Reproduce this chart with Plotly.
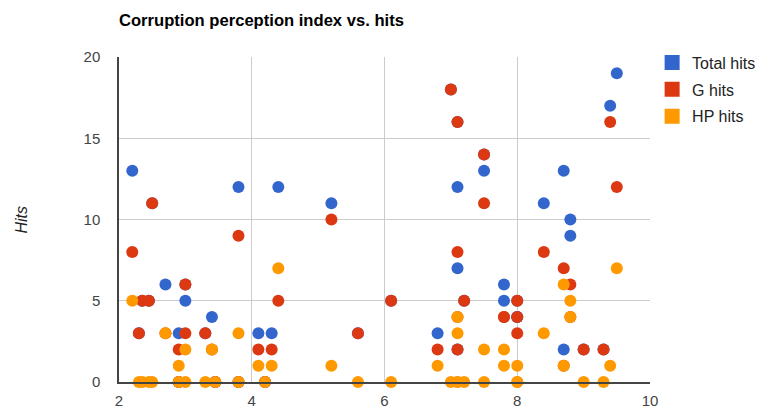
import plotly.graph_objects as go

# Corruption perception index (x) per country
cpi = [2.2, 2.3, 2.35, 2.45, 2.5, 2.7, 2.9, 2.9, 3.0, 3.0,
       3.3, 3.4, 3.45, 3.8, 3.8, 4.1, 4.2, 4.3, 4.4, 5.2,
       5.6, 6.1, 6.8, 7.0, 7.1, 7.1, 7.1, 7.1, 7.2, 7.5,
       7.5, 7.8, 7.8, 8.0, 8.0, 8.0, 8.4, 8.7, 8.7, 8.8,
       8.8, 9.0, 9.3, 9.4, 9.5]

total_hits = [13, 3, 5, 5, 11, 6, 0, 3, 6, 5,
              3, 4, 0, 12, 0, 3, 0, 3, 12, 11,
              3, 5, 3, 18, 16, 12, 7, 2, 5, 14,
              13, 6, 5, 5, 4, 4, 11, 13, 2, 10,
              9, 2, 2, 17, 19]

g_hits = [8, 3, 5, 5, 11, 3, 0, 2, 6, 3,
          3, 2, 0, 9, 0, 2, 0, 2, 5, 10,
          3, 5, 2, 18, 16, 8, 4, 2, 5, 14,
          11, 4, 4, 5, 3, 4, 8, 7, 1, 6,
          4, 2, 2, 16, 12]

hp_hits = [5, 0, 0, 0, 0, 3, 0, 1, 0, 2,
           0, 2, 0, 3, 0, 1, 0, 1, 7, 1,
           0, 0, 1, 0, 0, 4, 3, 0, 0, 0,
           2, 2, 1, 0, 1, 0, 3, 6, 1, 4,
           5, 0, 0, 1, 7]

series_names = ["Total hits", "G hits", "HP hits"]
series_colors = ["#3366cc", "#dc3912", "#ff9900"]
x_ticks = [2, 4, 6, 8, 10]
y_ticks = [0, 5, 10, 15, 20]

FONT = "Arial, Liberation Sans, sans-serif"

fig = go.Figure()
for name, vals, col in zip(series_names, [total_hits, g_hits, hp_hits], series_colors):
    fig.add_trace(go.Scatter(x=cpi, y=vals, mode="markers", name=name,
                             marker=dict(color=col, size=12, line=dict(width=0)),
                             cliponaxis=False, showlegend=False))
# legend entries with square swatches
for i, (name, col) in enumerate(zip(series_names, series_colors)):
    fig.add_trace(go.Scatter(x=[None], y=[None], mode="markers", name=name,
                             legendgroup=str(i),
                             marker=dict(color=col, size=15, symbol="square", line=dict(width=0)),
                             showlegend=True))

axis_common = dict(showgrid=True, gridcolor="#cccccc", gridwidth=1,
                   showline=True, linecolor="#444444", linewidth=1.5,
                   zeroline=False, ticks="",
                   tickfont=dict(family=FONT, size=15, color="#444444"))

# page body has an 8px margin, so the figure is sized 8px smaller each way
W, H = 755, 401
fig.update_layout(
    width=W, height=H,
    margin=dict(l=111, r=113, t=49, b=27, autoexpand=False),
    paper_bgcolor="white", plot_bgcolor="white",
    title=dict(text="<b>Corruption perception index vs. hits</b>",
               font=dict(family=FONT, size=16.6, color="#000000"),
               x=0, xref="paper", xanchor="left",
               y=1 - 12 / H, yref="container", yanchor="middle"),
    xaxis=dict(range=[2, 10], tickvals=x_ticks, ticklabelstandoff=4, **axis_common),
    yaxis=dict(range=[0, 20], tickvals=y_ticks, ticklabelstandoff=14, **axis_common),
    legend=dict(x=1.004, xanchor="left", y=1.035, yanchor="top",
                font=dict(family=FONT, size=16, color="#222222"),
                bgcolor="rgba(0,0,0,0)", traceorder="grouped", tracegroupgap=3),
    annotations=[dict(text="Hits", textangle=-90, xref="paper", yref="paper",
                      x=(21 - 119) / 531, y=0.5, xanchor="center", yanchor="middle",
                      showarrow=False,
                      font=dict(family=FONT, size=16, color="#222222", style="italic"))],
)

fig.write_html("out.html")
